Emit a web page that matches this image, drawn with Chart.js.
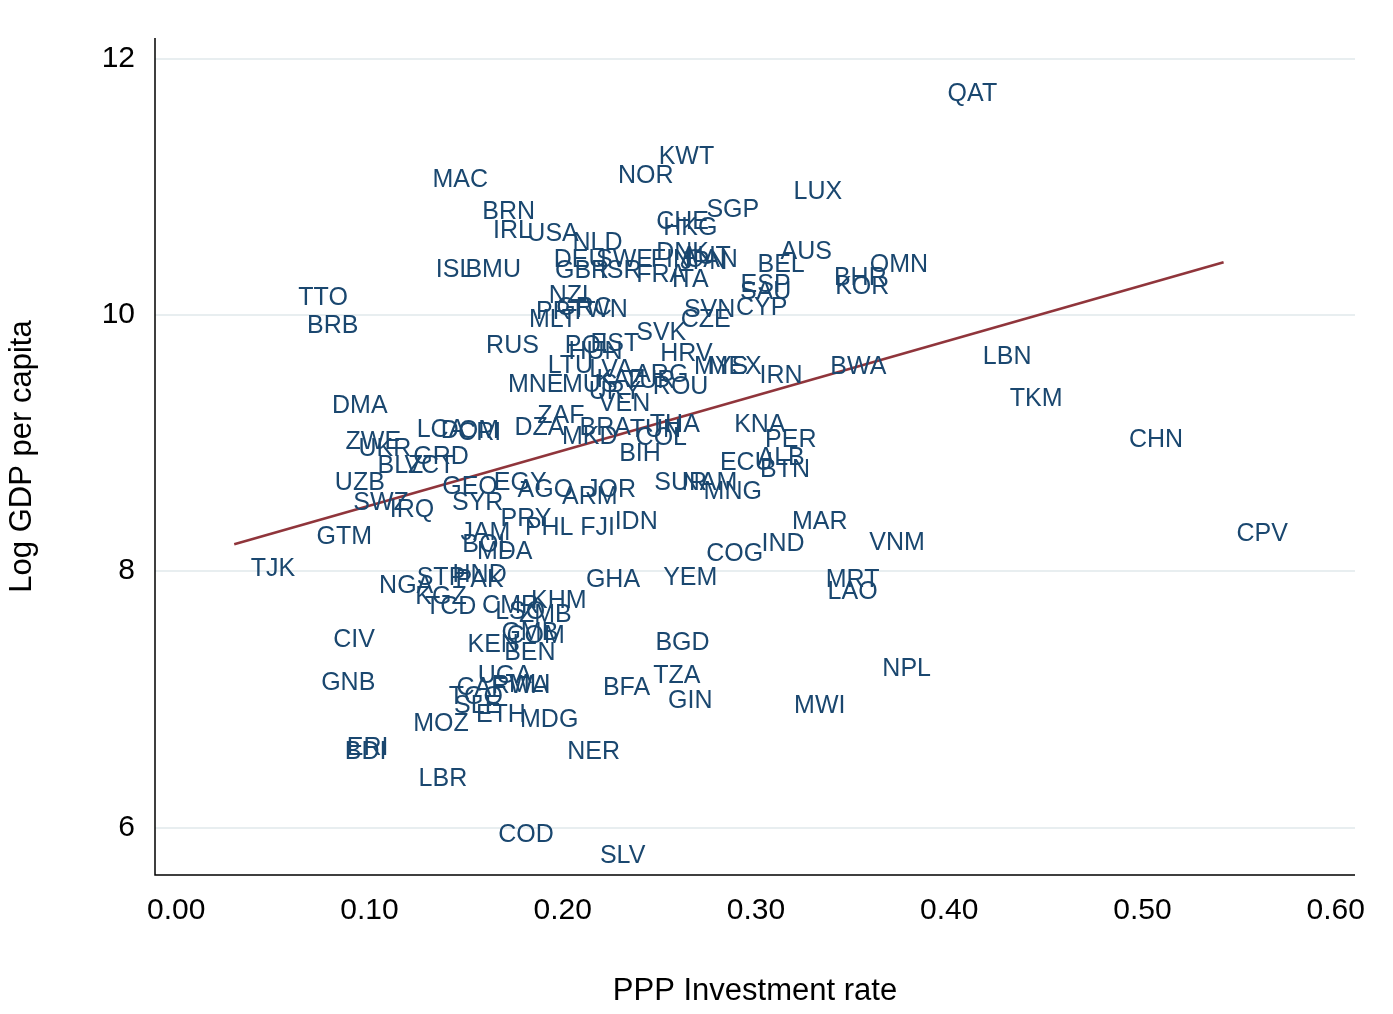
<!DOCTYPE html>
<html>
<head>
<meta charset="utf-8">
<script src="https://cdn.jsdelivr.net/npm/chart.js@4"></script>
<style>
  html, body { margin: 0; padding: 0; background: #fff; }
  #wrap { width: 1393px; height: 1014px; }
</style>
</head>
<body>
<div id="wrap"><canvas id="chart"></canvas></div>
<script>
const countries = ['QAT','KWT','NOR','MAC','LUX','BRN','SGP','CHE','HKG','IRL','USA','NLD','DNK','AUS','AUT','DEU','SWE','FIN','JPN','CAN','BEL','OMN','BHR','KOR','ISL','BMU','GBR','ISR','FRA','ITA','ESP','SAU','CYP','SVN','NZL','GRC','PRT','TWN','MLT','CZE','EST','SVK','HRV','RUS','POL','HUN','LTU','LVA','MYS','MEX','ARG','TUR','IRN','BWA','MNE','ROU','MUS','KAZ','URY','VEN','BRA','THA','TUN','COL','BIH','MKD','ZAF','CRI','DZA','LCA','DOM','ECU','ALB','BTN','KNA','PER','DMA','TTO','BRB','ZWE','UKR','GRD','BLZ','VCT','UZB','SWZ','IRQ','GEO','EGY','SYR','AGO','ARM','JOR','SUR','NAM','MNG','PRY','PHL','FJI','IDN','GTM','JAM','BOL','IND','COG','MAR','VNM','CPV','TJK','MDA','HND','PAK','NGA','STP','KGZ','TCD','CMR','LSO','ZMB','KHM','GHA','YEM','MRT','LAO','CIV','GMB','COM','KEN','BEN','BGD','NPL','GNB','UGA','CAF','RWA','MLI','MWI','TGO','SLE','ETH','MDG','BFA','TZA','GIN','MOZ','BDI','ERI','LBR','NER','COD','SLV','LBN','TKM','CHN'];
const invRate = [0.412,0.264,0.243,0.147,0.332,0.172,0.288,0.262,0.266,0.174,0.195,0.218,0.262,0.326,0.274,0.209,0.232,0.256,0.273,0.277,0.313,0.374,0.354,0.355,0.144,0.164,0.210,0.230,0.251,0.266,0.305,0.305,0.303,0.276,0.205,0.211,0.199,0.219,0.195,0.274,0.227,0.251,0.264,0.174,0.214,0.217,0.204,0.225,0.282,0.289,0.251,0.245,0.313,0.353,0.186,0.261,0.214,0.230,0.227,0.232,0.222,0.258,0.248,0.251,0.240,0.214,0.199,0.157,0.188,0.137,0.152,0.295,0.313,0.315,0.302,0.318,0.095,0.076,0.081,0.102,0.108,0.137,0.116,0.131,0.095,0.106,0.122,0.152,0.178,0.156,0.191,0.214,0.225,0.261,0.276,0.288,0.181,0.193,0.218,0.238,0.087,0.160,0.161,0.314,0.289,0.333,0.373,0.562,0.050,0.170,0.157,0.157,0.119,0.137,0.137,0.142,0.173,0.178,0.191,0.198,0.226,0.266,0.350,0.350,0.092,0.183,0.186,0.164,0.183,0.262,0.378,0.089,0.170,0.158,0.178,0.183,0.333,0.155,0.156,0.168,0.193,0.233,0.259,0.266,0.137,0.098,0.099,0.138,0.216,0.181,0.231,0.430,0.445,0.507];
const logGdp = [11.72,11.23,11.08,11.05,10.96,10.80,10.82,10.72,10.68,10.65,10.63,10.56,10.48,10.49,10.45,10.43,10.43,10.43,10.41,10.43,10.39,10.39,10.29,10.22,10.35,10.35,10.34,10.34,10.31,10.27,10.23,10.18,10.05,10.04,10.15,10.05,10.02,10.04,9.96,9.96,9.77,9.86,9.69,9.76,9.76,9.71,9.60,9.57,9.59,9.59,9.53,9.48,9.52,9.59,9.45,9.44,9.45,9.49,9.40,9.30,9.12,9.14,9.10,9.04,8.91,9.05,9.21,9.08,9.12,9.10,9.09,8.84,8.88,8.79,9.14,9.02,9.29,10.13,9.91,9.01,8.95,8.89,8.82,8.82,8.69,8.53,8.48,8.66,8.69,8.53,8.63,8.58,8.63,8.69,8.69,8.62,8.41,8.34,8.34,8.38,8.27,8.30,8.20,8.21,8.13,8.38,8.22,8.29,8.02,8.15,7.97,7.93,7.88,7.95,7.80,7.72,7.73,7.68,7.66,7.77,7.93,7.95,7.93,7.84,7.46,7.52,7.49,7.42,7.36,7.44,7.24,7.13,7.18,7.09,7.10,7.11,6.95,7.02,6.95,6.88,6.84,7.09,7.18,6.99,6.81,6.59,6.62,6.38,6.59,5.94,5.78,9.67,9.34,9.02];
// fitted line end points
const fitX = [0.030, 0.542];
const fitY = [8.21, 10.41];
const xTicks = [0, 0.1, 0.2, 0.3, 0.4, 0.5, 0.6];
const yTicks = [6, 8, 10, 12];

const labelColor = '#1a476f';

const labelPlugin = {
    id: 'pointLabels',
    afterDatasetsDraw(chart) {
        const ctx = chart.ctx;
        const xs = chart.scales.x, ys = chart.scales.y;
        ctx.save();
        ctx.font = '25px "Liberation Sans", Arial, sans-serif';
        ctx.fillStyle = labelColor;
        ctx.textAlign = 'center';
        ctx.textBaseline = 'middle';
        countries.forEach((c, i) => {
            ctx.fillText(c, xs.getPixelForValue(invRate[i]), ys.getPixelForValue(logGdp[i]));
        });
        ctx.restore();
    },
    beforeDatasetsDraw(chart) {
        // axis lines
        const ctx = chart.ctx, a = chart.chartArea;
        ctx.save();
        ctx.strokeStyle = '#000';
        ctx.lineWidth = 1.5;
        ctx.beginPath();
        ctx.moveTo(a.left, a.top);
        ctx.lineTo(a.left, a.bottom);
        ctx.lineTo(a.right, a.bottom);
        ctx.stroke();
        ctx.restore();
    }
};

const font = { family: '"Liberation Sans", Arial, sans-serif', size: 30 };

new Chart(document.getElementById('chart'), {
    type: 'scatter',
    data: {
        datasets: [
            {
                data: invRate.map((v, i) => ({ x: v, y: logGdp[i] })),
                pointRadius: 0,
                pointHoverRadius: 0
            },
            {
                type: 'line',
                data: fitX.map((v, i) => ({ x: v, y: fitY[i] })),
                borderColor: '#90353b',
                borderWidth: 2.5,
                pointRadius: 0,
                fill: false
            }
        ]
    },
    options: {
        responsive: true,
        maintainAspectRatio: false,
        animation: false,
        layout: { padding: { top: 38, right: 38, left: 0, bottom: 0 } },
        plugins: { legend: { display: false }, tooltip: { enabled: false } },
        scales: {
            x: {
                type: 'linear',
                min: -0.011,
                max: 0.610,
                afterBuildTicks: s => { s.ticks = xTicks.map(v => ({ value: v })); },
                afterFit: s => { s.height = 139; },
                grid: { display: false, drawTicks: false },
                border: { display: false },
                ticks: {
                    color: '#000', font: font, padding: 18,
                    callback: v => v.toFixed(2)
                },
                title: { display: true, text: 'PPP Investment rate', color: '#000', font: { ...font, size: 31 }, padding: { top: 6 } }
            },
            y: {
                type: 'linear',
                min: 5.63,
                max: 12.16,
                afterBuildTicks: s => { s.ticks = yTicks.map(v => ({ value: v })); },
                afterFit: s => { s.width = 155; },
                grid: { color: '#e8eef0', lineWidth: 2, drawTicks: false },
                border: { display: false },
                ticks: { color: '#000', font: font, padding: 20 },
                title: { display: true, text: 'Log GDP per capita', color: '#000', font: { ...font, size: 31 }, padding: { bottom: 10 } }
            }
        }
    },
    plugins: [labelPlugin]
});
</script>
</body>
</html>
